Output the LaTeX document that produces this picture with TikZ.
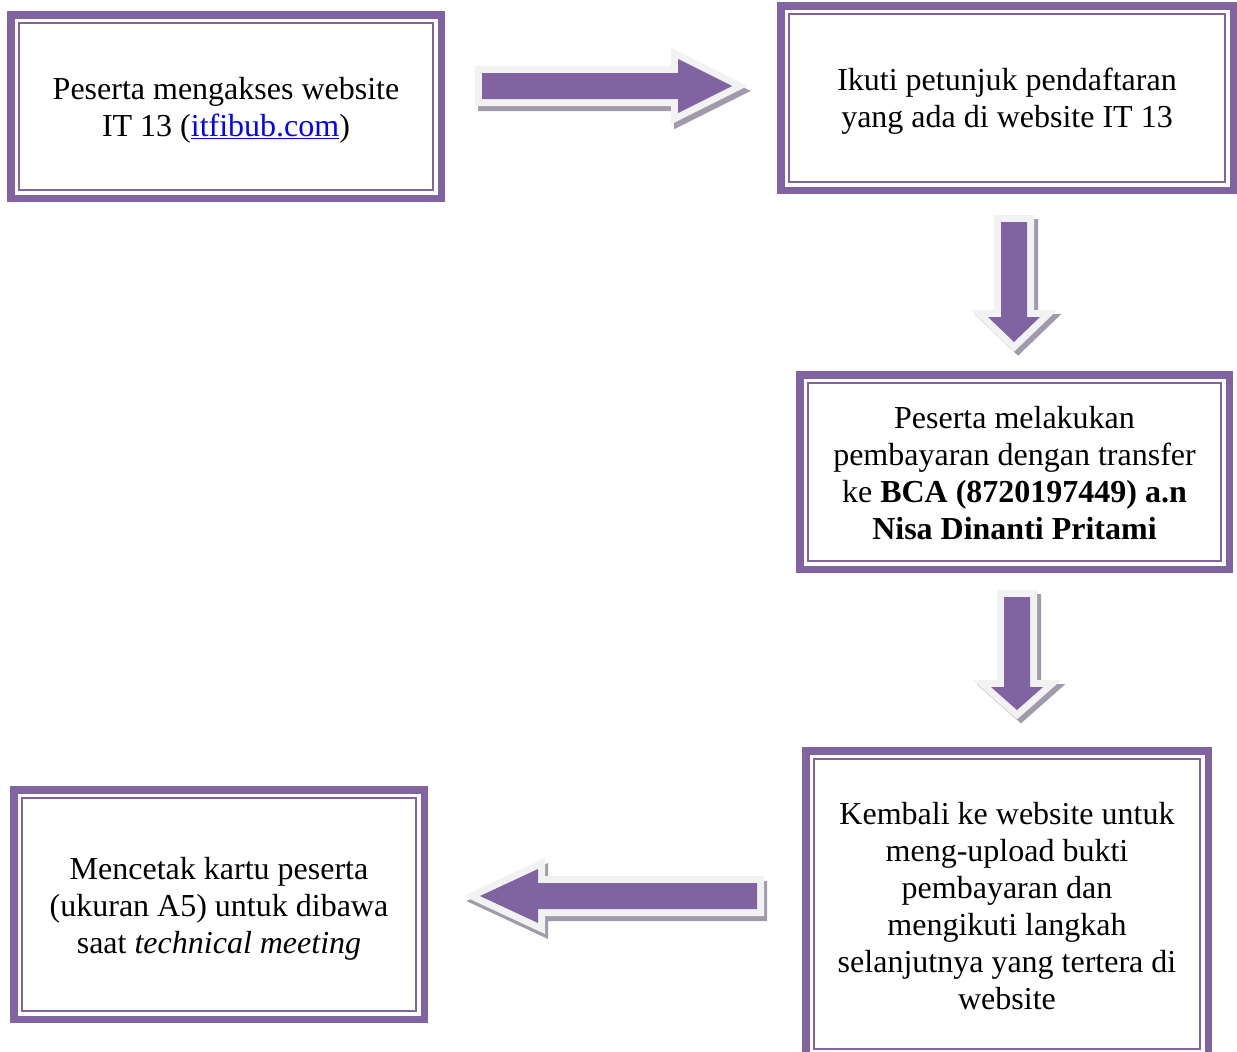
\documentclass[tikz,border=0pt]{standalone}
\usepackage{fontspec}
\setmainfont{Liberation Serif}
\definecolor{boxpurple}{RGB}{128,100,162}
\definecolor{outlinegrey}{RGB}{242,242,242}
\definecolor{shadowgrey}{RGB}{160,154,170}
\definecolor{linkblue}{RGB}{0,0,255}
\newcommand{\myblockarrow}[2]{%
  \fill[shadowgrey, shift={#2}] #1;
  \draw[shadowgrey, line width=14pt, miter limit=10, shift={#2}] #1;
  \draw[outlinegrey, line width=14pt, miter limit=10] #1;
  \fill[boxpurple] #1;
}
\begin{document}
\begin{tikzpicture}[x=1pt, y=-1pt,
  framebox/.style={draw=boxpurple, line width=7.5pt, rectangle, inner sep=0pt, outer sep=0pt,
    path picture={\draw[boxpurple, line width=2pt]
      ([shift={(8.5pt,-8.5pt)}]path picture bounding box.north west) rectangle
      ([shift={(-8.5pt,8.5pt)}]path picture bounding box.south east);}},
  boxtext/.style={align=center, inner sep=0pt, font=\fontsize{32}{37}\selectfont}]
\useasboundingbox (0,0) rectangle (1237,1052);
\begin{scope}
\clip (0,0) rectangle (1237,1052);
\node[framebox, minimum width=430.5pt, minimum height=183.5pt] (b1) at (226,106.5) {};
\node[framebox, minimum width=452.5pt, minimum height=184.5pt] (b2) at (1007,98) {};
\node[framebox, minimum width=429.5pt, minimum height=194.5pt] (b3) at (1014.5,472) {};
\node[framebox, minimum width=402.5pt, minimum height=306.5pt] (b4) at (1007,904) {};
\node[framebox, minimum width=410.5pt, minimum height=229.5pt] (b5) at (219,904.5) {};
\end{scope}
\node[boxtext, yshift=-4pt] (t1) at (b1.center)
  {Peserta mengakses website\\IT 13 (\textcolor{linkblue}{\underline{itfibub.com}})};
\node[boxtext, yshift=-3pt] (t2) at (b2.center)
  {Ikuti petunjuk pendaftaran\\yang ada di website IT 13};
\node[boxtext, yshift=-1.5pt] (t3) at (b3.center)
  {Peserta melakukan\\pembayaran dengan transfer\\ke \textbf{BCA (8720197449) a.n}\\\textbf{Nisa Dinanti Pritami}};
\node[boxtext, yshift=-2pt] (t4) at (b4.center)
  {Kembali ke website untuk\\meng-upload bukti\\pembayaran dan\\mengikuti langkah\\selanjutnya yang tertera di\\website};
\node[boxtext, yshift=-4pt] (t5) at (b5.center)
  {Mencetak kartu peserta\\(ukuran A5) untuk dibawa\\saat \textit{technical meeting}};
% right arrow b1 -> b2
\myblockarrow{(482,73) -- (678,73) -- (678,59) -- (732,86) -- (678,113) -- (678,99) -- (482,99) -- cycle}{(3,5)}
% down arrow b2 -> b3
\myblockarrow{(1001,222) -- (1027,222) -- (1027,317) -- (1040,317) -- (1014,342) -- (988,317) -- (1001,317) -- cycle}{(4,4)}
% down arrow b3 -> b4
\myblockarrow{(1004,597) -- (1030,597) -- (1030,687) -- (1043,687) -- (1017,710) -- (991,687) -- (1004,687) -- cycle}{(4,4)}
% left arrow b4 -> b5
\myblockarrow{(757,883) -- (538,883) -- (538,869) -- (480,896) -- (538,923) -- (538,909) -- (757,909) -- cycle}{(3,5)}
\end{tikzpicture}
\end{document}
